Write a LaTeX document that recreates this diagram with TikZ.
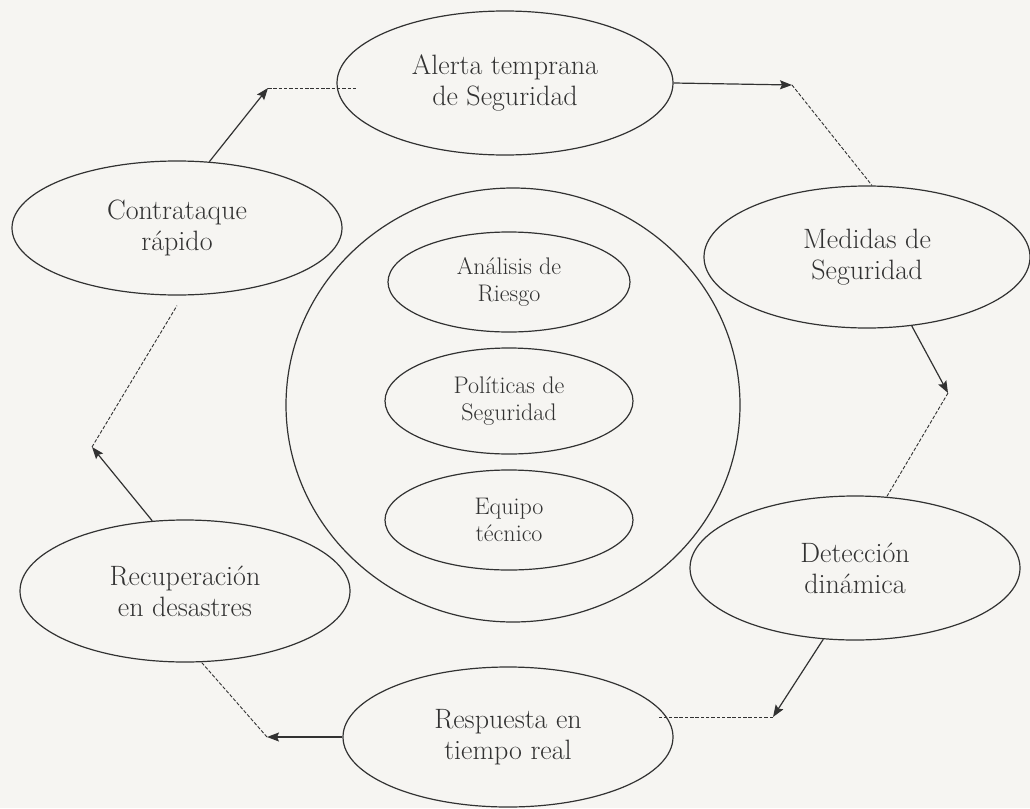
\documentclass[tikz,border=0pt]{standalone}
\usepackage{fontspec}
\usetikzlibrary{shapes.geometric,arrows.meta}
\definecolor{paper}{RGB}{246,245,242}
\definecolor{ink}{RGB}{50,50,50}
\begin{document}
\begin{tikzpicture}[x=1pt,y=-1pt,
  every node/.style={text=ink},
  bubble/.style={ellipse,draw=ink,line width=1.2pt,inner sep=0pt,align=center,
    font=\fontsize{28}{31}\selectfont},
  smallbubble/.style={bubble,font=\fontsize{24}{27}\selectfont},
  flow/.style={draw=ink,line width=1.2pt,-{Stealth[length=12pt,width=9pt,inset=2pt]}},
  link/.style={draw=ink,line width=0.9pt,dash pattern=on 3.5pt off 1.8pt}]
  % page
  \fill[paper] (0,0) rectangle (1030,808);
  \useasboundingbox (0,0) rectangle (1030,808);

  % central block
  \node[ellipse,draw=ink,line width=1.2pt,minimum width=454pt,minimum height=434pt]
    (core) at (513,405) {};
  \node[smallbubble,minimum width=242pt,minimum height=100pt] (analisis) at (509,282)
    {Análisis de\\Riesgo};
  \node[smallbubble,minimum width=248pt,minimum height=106pt] (politicas) at (509,401)
    {Políticas de\\Seguridad};
  \node[smallbubble,minimum width=248pt,minimum height=100pt] (equipo) at (509,520)
    {Equipo\\técnico};

  % cycle stages
  \node[bubble,minimum width=336pt,minimum height=144pt] (alerta) at (505,83)
    {Alerta temprana\\de Seguridad};
  \node[bubble,minimum width=326pt,minimum height=142pt] (medidas) at (867,257)
    {Medidas de\\Seguridad};
  \node[bubble,minimum width=330pt,minimum height=144pt] (deteccion) at (855,568)
    {Detección\\dinámica};
  \node[bubble,minimum width=330pt,minimum height=140pt] (respuesta) at (508,737)
    {Respuesta en\\tiempo real};
  \node[bubble,minimum width=330pt,minimum height=142pt] (recuperacion) at (185,591)
    {Recuperación\\en desastres};
  \node[bubble,minimum width=330pt,minimum height=134pt] (contra) at (177,228)
    {Contrataque\\rápido};

  % turning points of the cycle
  \coordinate (t1) at (268,88);
  \coordinate (t2) at (792,85);
  \coordinate (t3) at (948,393);
  \coordinate (t4) at (773,717);
  \coordinate (t5) at (267,737);
  \coordinate (t6) at (92,447);

  % connectors
  \draw[flow] (contra.64) -- (t1);
  \draw[link] (t1) -- ([xshift=21pt]t1 -| alerta.west);
  \draw[flow] (alerta.east) -- (t2);
  \draw[link] (t2) -- (medidas.86);
  \draw[flow] (medidas.-57) -- (t3);
  \draw[link] (t3) -- (deteccion.66);
  \draw[flow] (deteccion.-114) -- (t4);
  \draw[link] (t4) -- ([xshift=-15pt]t4 -| respuesta.east);
  \draw[flow] (respuesta.west) -- (t5);
  \draw[link] (t5) -- (recuperacion.-77);
  \draw[flow] (recuperacion.115) -- (t6);
  \draw[link] (t6) -- ([yshift=-10pt]contra.south);
\end{tikzpicture}
\end{document}
